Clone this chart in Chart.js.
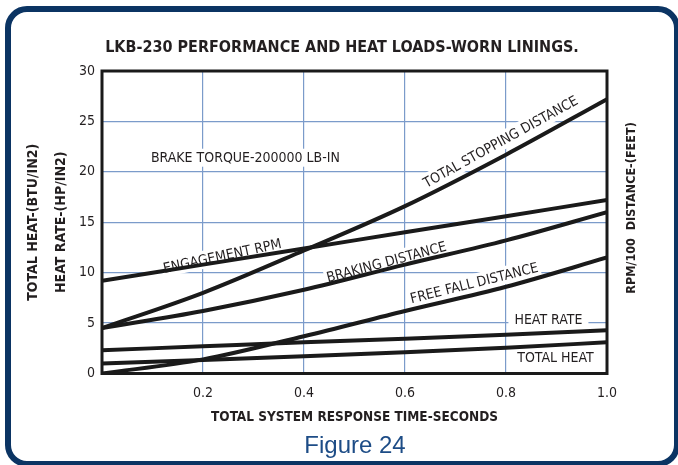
<!DOCTYPE html>
<html>
<head>
<meta charset="utf-8">
<script src="https://cdn.jsdelivr.net/npm/chart.js@4/dist/chart.umd.min.js"></script>
<style>
  html, body { margin: 0; padding: 0; background: #fff; }
  #quadro { position: relative; width: 678px; height: 465px; overflow: hidden; }
  #grafico { position: absolute; left: 0; top: 0; }
  #moldura {
    position: absolute; left: 5px; top: 6px; width: 663px; height: 449px;
    border: 6px solid #0b3463; border-radius: 22px; pointer-events: none;
  }
</style>
</head>
<body>
<div id="quadro">
  <canvas id="grafico" width="678" height="465"></canvas>
  <div id="moldura"></div>
</div>
<script>
// dados (tempo em segundos)
const TEMPO = [0, 0.2, 0.4, 0.6, 0.8, 1.0];
const DIST_PARADA = [4.5, 8.0, 12.2, 16.6, 21.7, 27.2];
const RPM_ENGATE = [9.2, 10.8, 12.4, 14.0, 15.6, 17.2];
const DIST_FRENAGEM = [4.5, 6.2, 8.3, 10.8, 13.2, 16.0];
const QUEDA_LIVRE = [0, 1.4, 3.7, 6.2, 8.6, 11.5];
const TAXA_CALOR = [2.3, 2.7, 3.1, 3.45, 3.85, 4.3];
const CALOR_TOTAL = [1.0, 1.35, 1.7, 2.1, 2.55, 3.1];

const NOMES = ['TOTAL STOPPING DISTANCE', 'ENGAGEMENT RPM', 'BRAKING DISTANCE',
               'FREE FALL DISTANCE', 'HEAT RATE', 'TOTAL HEAT'];
const SERIES = [DIST_PARADA, RPM_ENGATE, DIST_FRENAGEM, QUEDA_LIVRE, TAXA_CALOR, CALOR_TOTAL];

const FONTE = "'Liberation Sans Narrow', 'DejaVu Sans Condensed', sans-serif";
const COR_TEXTO = '#231f20';

// rotulos escritos sobre o grafico (posicao em unidades do grafico)
const ROTULOS = [
  { texto: 'BRAKE TORQUE-200000 LB-IN', x: 0.284, y: 21.4, ang: 0, folga: 2 },
  { texto: 'ENGAGEMENT RPM', x: 0.238, y: 11.67, ang: -12, folga: 2 },
  { texto: 'TOTAL STOPPING DISTANCE', x: 0.789, y: 23.0, ang: -29, folga: 2 },
  { texto: 'BRAKING DISTANCE', x: 0.563, y: 11.07, ang: -15, folga: 2 },
  { texto: 'FREE FALL DISTANCE', x: 0.737, y: 8.99, ang: -14, folga: 2 },
  { texto: 'HEAT RATE', x: 0.884, y: 5.41, ang: 0, folga: 6 },
  { texto: 'TOTAL HEAT', x: 0.898, y: 1.64, ang: 0, folga: 4 }
];

const extras = {
  id: 'extras',
  beforeDatasetsDraw(chart) {
    const { ctx, scales: { x, y } } = chart;
    ctx.save();
    ctx.font = '14px ' + FONTE;
    ROTULOS.forEach(r => {
      const px = x.getPixelForValue(r.x), py = y.getPixelForValue(r.y);
      const w = ctx.measureText(r.texto).width;
      ctx.save();
      ctx.translate(px, py);
      ctx.rotate(r.ang * Math.PI / 180);
      ctx.fillStyle = '#fff';
      ctx.fillRect(-w / 2 - r.folga, -9, w + 2 * r.folga, 18);
      ctx.fillStyle = COR_TEXTO;
      ctx.textAlign = 'center';
      ctx.textBaseline = 'middle';
      ctx.fillText(r.texto, 0, 1);
      ctx.restore();
    });
    ctx.restore();
  },
  afterDatasetsDraw(chart) {
    const { ctx, chartArea: a } = chart;
    ctx.save();
    ctx.strokeStyle = '#1a1a1a';
    ctx.lineWidth = 3;
    ctx.strokeRect(a.left, a.top, a.right - a.left, a.bottom - a.top);
    ctx.restore();
  },
  afterDraw(chart) {
    const { ctx } = chart;
    ctx.save();
    ctx.fillStyle = COR_TEXTO;
    ctx.textAlign = 'center';
    ctx.textBaseline = 'middle';
    ctx.font = 'bold 16px ' + FONTE;
    ctx.fillText('LKB-230 PERFORMANCE AND HEAT LOADS-WORN LININGS.', 342, 48);
    // titulo do eixo da direita, lido de baixo para cima
    ctx.save();
    ctx.translate(632, 208);
    ctx.rotate(-Math.PI / 2);
    ctx.font = 'bold 12.5px ' + FONTE;
    ctx.fillText('RPM/100  DISTANCE-(FEET)', 0, 0);
    ctx.restore();
    ctx.fillStyle = '#1d4c86';
    ctx.font = "24px 'Liberation Sans', Arial, sans-serif";
    ctx.fillText('Figure 24', 355, 446);
    ctx.restore();
  }
};

new Chart(document.getElementById('grafico'), {
  type: 'line',
  data: {
    datasets: SERIES.map((s, i) => ({
      label: NOMES[i],
      data: TEMPO.map((t, j) => ({ x: t, y: s[j] })),
      borderColor: '#1a1a1a',
      borderWidth: 4,
      pointRadius: 0,
      fill: false,
      cubicInterpolationMode: 'monotone'
    }))
  },
  options: {
    responsive: false,
    animation: false,
    layout: { padding: { left: 0, top: 71, right: 71, bottom: 0 } },
    plugins: { legend: { display: false }, tooltip: { enabled: false } },
    scales: {
      x: {
        type: 'linear', min: 0, max: 1,
        afterFit: s => { s.height = 91.5; },
        grid: { color: '#7b9bca', lineWidth: 1.2, drawTicks: false },
        border: { display: false },
        ticks: {
          stepSize: 0.2, padding: 11, color: COR_TEXTO, maxRotation: 0,
          font: { family: FONTE, size: 14 },
          callback: v => v === 0 ? '' : v.toFixed(1)
        },
        title: {
          display: true, text: 'TOTAL SYSTEM RESPONSE TIME-SECONDS', color: COR_TEXTO,
          font: { family: FONTE, size: 13.5, weight: 'bold', lineHeight: 1.2 },
          padding: { top: 0, bottom: 39 }
        }
      },
      y: {
        min: 0, max: 30,
        afterFit: s => { s.width = 102; },
        grid: { color: '#7b9bca', lineWidth: 1.2, drawTicks: false },
        border: { display: false },
        ticks: { stepSize: 5, padding: 7, color: COR_TEXTO, font: { family: FONTE, size: 14 } },
        title: {
          display: true, text: ['TOTAL HEAT-(BTU/IN2)', 'HEAT RATE-(HP/IN2)'], color: COR_TEXTO,
          font: { family: FONTE, size: 14, weight: 'bold', lineHeight: 2 },
          padding: { top: 19, bottom: 0 }
        }
      }
    }
  },
  plugins: [extras]
});
</script>
</body>
</html>
